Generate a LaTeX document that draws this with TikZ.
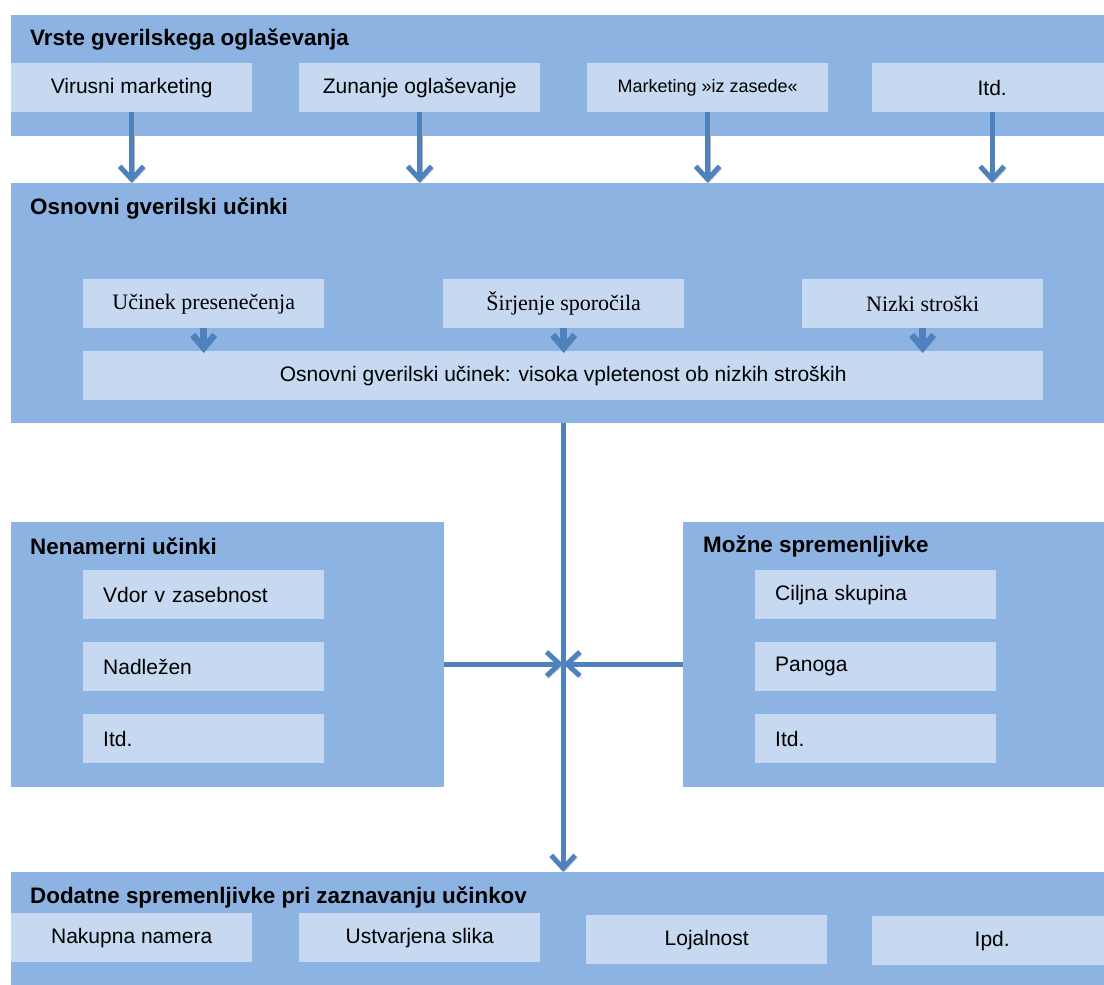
\documentclass[tikz,border=0pt]{standalone}
\usepackage{fontspec}
\setmainfont{Liberation Sans}
\newfontfamily\serifbox{Liberation Serif}
\usetikzlibrary{arrows.meta}
\definecolor{outerblue}{HTML}{8DB3E2}
\definecolor{innerblue}{HTML}{C6D9F1}
\definecolor{arrowblue}{HTML}{4F81BD}
\definecolor{shadowgray}{HTML}{B0B0B0}
\begin{document}
\begin{tikzpicture}[x=1pt,y=-1pt,
  outerbox/.style={rectangle, fill=outerblue, draw=none, anchor=north west, inner sep=0pt},
  innerbox/.style={rectangle, fill=innerblue, draw=none, anchor=north west, inner sep=0pt,
    minimum width=241pt, minimum height=49pt, font=\fontsize{21}{25}\selectfont},
  seriftext/.style={font=\serifbox\fontsize{22}{25}\selectfont},
  leftbox/.style={innerbox, text width=201pt, align=left, inner xsep=20pt, inner ysep=0pt},
  titletext/.style={anchor=west, inner sep=0pt, font=\bfseries\fontsize{22.4}{26}\selectfont},
  shadowed/.style={preaction={draw=shadowgray, transform canvas={xshift=2pt, yshift=-2.5pt}}},
  bigarrow/.style={shadowed, draw=arrowblue, line width=5pt,
    -{Straight Barb[length=13pt,width=24pt]}},
  smallarrow/.style={shadowed, draw=arrowblue, line width=6.5pt,
    -{Straight Barb[length=13pt,width=22pt]}},
  plainline/.style={draw=arrowblue, line width=5pt}
]
\useasboundingbox (0,0) rectangle (1104,985);

% ---------- top bar ----------
\node[outerbox, minimum width=1093pt, minimum height=121pt] (top) at (11,15) {};
\node[titletext] (toptitle) at (30,40) {Vrste gverilskega oglaševanja};
\node[innerbox] (t1) at (11,63) {Virusni marketing};
\node[innerbox] (t2) at (299,63) {Zunanje oglaševanje};
\node[innerbox, font=\fontsize{18}{21}\selectfont] (t3) at (587,63) {Marketing »iz zasede«};
\node[innerbox, minimum width=240pt] (t4) at (872,63) {Itd.};

% ---------- middle bar ----------
\node[outerbox, minimum width=1093pt, minimum height=240pt] (mid) at (11,183) {};
\node[titletext] (midtitle) at (30,209) {Osnovni gverilski učinki};
\node[innerbox, seriftext] (m1) at (83,279) {Učinek presenečenja};
\node[innerbox, seriftext] (m2) at (443,279) {Širjenje sporočila};
\node[innerbox, seriftext] (m3) at (802,279) {Nizki stroški};
\node[innerbox, minimum width=960pt] (wide) at (83,351) {Osnovni gverilski učinek: visoka vpletenost ob nizkih stroških};

% ---------- left / right boxes ----------
\node[outerbox, minimum width=433pt, minimum height=265pt] (left) at (11,522) {};
\node[titletext] (lefttitle) at (30,546) {Nenamerni učinki};
\node[leftbox] (l1) at (83,570) {Vdor v zasebnost};
\node[leftbox] (l2) at (83,642) {Nadležen};
\node[leftbox] (l3) at (83,714) {Itd.};

\node[outerbox, minimum width=421pt, minimum height=265pt] (right) at (683,522) {};
\node[titletext] (righttitle) at (703,546) {Možne spremenljivke};
\node[leftbox] (r1) at (755,570) {Ciljna skupina};
\node[leftbox] (r2) at (755,642) {Panoga};
\node[leftbox] (r3) at (755,714) {Itd.};

% ---------- bottom bar ----------
\node[outerbox, minimum width=1093pt, minimum height=113pt] (bot) at (11,872) {};
\node[titletext] (bottitle) at (30,897) {Dodatne spremenljivke pri zaznavanju učinkov};
\node[innerbox] (b1) at (11,913) {Nakupna namera};
\node[innerbox] (b2) at (299,913) {Ustvarjena slika};
\node[innerbox] (b3) at (586,915) {Lojalnost};
\node[innerbox, minimum width=240pt] (b4) at (872,916) {Ipd.};

% ---------- connectors ----------
\foreach \n in {t1,t2,t3,t4}
  \draw[bigarrow] (\n.south) -- (\n.south |- mid.north);
\foreach \n in {m1,m2,m3}
  \draw[smallarrow] (\n.south) -- ([yshift=-2pt]\n.south |- wide.north);

\coordinate (cross) at (wide.south |- 0,664);
\draw[plainline] (wide.south |- mid.south) -- (cross);
\draw[bigarrow] (cross) -- (cross |- bot.north);
\draw[bigarrow] (left.east |- cross) -- (cross);
\draw[bigarrow] (right.west |- cross) -- (cross);
\end{tikzpicture}
\end{document}
